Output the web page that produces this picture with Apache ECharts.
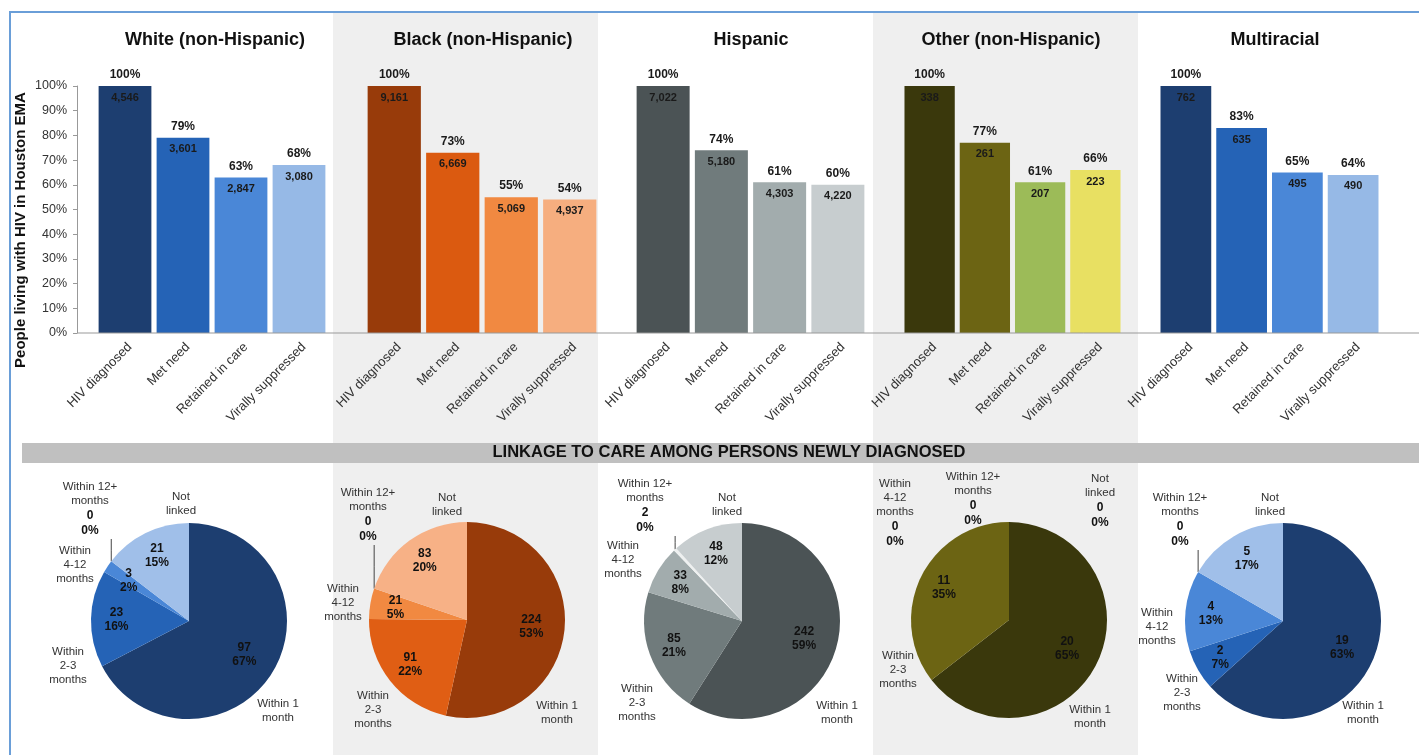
<!doctype html>
<html lang="en">
<head>
<meta charset="UTF-8">
<title>HIV care continuum and linkage to care by race/ethnicity</title>
<script src="https://cdn.jsdelivr.net/npm/echarts@6/dist/echarts.min.js"></script>
<style>
    html, body { margin: 0; padding: 0; background: #fff; }
    #chart { width: 1419px; height: 755px; }
</style>
</head>
<body>
<div id="chart"></div>
<script>
// groups (panel titles)
var groups = ['White (non-Hispanic)', 'Black (non-Hispanic)', 'Hispanic', 'Other (non-Hispanic)', 'Multiracial'];
// bar categories
var stages = ['HIV diagnosed', 'Met need', 'Retained in care', 'Virally suppressed'];
var yTicks = [0, 10, 20, 30, 40, 50, 60, 70, 80, 90, 100];

// percent of diagnosed
var pctWhite = [100, 79, 63, 68];
var pctBlack = [100, 73, 55, 54];
var pctHisp = [100, 74, 61, 60];
var pctOther = [100, 77, 61, 66];
var pctMulti = [100, 83, 65, 64];
// people counts
var cntWhite = [4546, 3601, 2847, 3080];
var cntBlack = [9161, 6669, 5069, 4937];
var cntHisp = [7022, 5180, 4303, 4220];
var cntOther = [338, 261, 207, 223];
var cntMulti = [762, 635, 495, 490];

// linkage to care (pies)
var linkNames = ['Within 1 month', 'Within 2-3 months', 'Within 4-12 months', 'Within 12+ months', 'Not linked'];
var linkLabels = ['Within 1\nmonth', 'Within\n2-3\nmonths', 'Within\n4-12\nmonths', 'Within 12+\nmonths', 'Not\nlinked'];
var linkWhite = [97, 23, 3, 0, 21];
var linkBlack = [224, 91, 21, 0, 83];
var linkHisp = [242, 85, 33, 2, 48];
var linkOther = [20, 11, 0, 0, 0];
var linkMulti = [19, 2, 4, 0, 5];

var pcts = [pctWhite, pctBlack, pctHisp, pctOther, pctMulti];
var cnts = [cntWhite, cntBlack, cntHisp, cntOther, cntMulti];
var links = [linkWhite, linkBlack, linkHisp, linkOther, linkMulti];

// ---- styles / layout ----
var barColors = [
    ['#1d3e70', '#2563b6', '#4a87d7', '#96b9e6'],
    ['#983b0a', '#db5a10', '#f18941', '#f6ae7f'],
    ['#4b5355', '#707b7c', '#a2acad', '#c7cdcf'],
    ['#3a380c', '#6c6413', '#9cbb58', '#e8e062'],
    ['#1d3e70', '#2563b6', '#4a87d7', '#96b9e6']
];
var pieColors = [
    ['#1d3e70', '#2563b6', '#4a87d7', '#dfe9f6', '#a0bfe9'],
    ['#983b0a', '#e05e14', '#f18941', '#fbe0cc', '#f7b186'],
    ['#4b5355', '#707b7c', '#a2acad', '#eef0f0', '#c7cdcf'],
    ['#3a380c', '#6c6413', '#9cbb58', '#f3f0b0', '#e8e062'],
    ['#1d3e70', '#2563b6', '#4a87d7', '#dfe9f6', '#a0bfe9']
];
var gridLeft = [96, 365, 634, 902, 1158];
var gridWidth = [232, 234, 233, 221, 223];
var gridTop = 86, gridH = 247;
var titleX = [210, 478, 746, 1006, 1270];
var pieCenters = [[189, 621], [467, 620], [742, 621], [1009, 620], [1283, 621]];
var pieR = 98;
// where the slice names sit, relative to each pie centre (hand placed, like the original)
var nameOffsets = [
    [[89, 90], [-121, 45], [-114, -56], [-99, -112], [-8, -117]],
    [[90, 93], [-94, 90], [-124, -17], [-99, -105], [-20, -115]],
    [[95, 92], [-105, 82], [-119, -61], [-97, -115], [-15, -116]],
    [[81, 97], [-111, 50], [-114, -107], [-36, -121], [91, -119]],
    [[80, 92], [-101, 72], [-126, 6], [-103, -101], [-13, -116]]
];
var leaderSlice = [3, 3, 3, -1, 3];
var FONT = 'Liberation Sans, Arial, sans-serif';

function sum(a) { return a.reduce(function (s, v) { return s + v; }, 0); }
// middle angle of a slice, clockwise from 12 o'clock
function midAngle(vals, i) {
    var before = sum(vals.slice(0, i));
    return (before + vals[i] / 2) / sum(vals) * Math.PI * 2;
}

var grids = [], xAxes = [], yAxes = [], series = [], titles = [];

groups.forEach(function (g, k) {
    grids.push({left: gridLeft[k], top: gridTop, width: gridWidth[k], height: gridH});
    titles.push({
        text: g, left: titleX[k], top: 26, textAlign: 'center',
        textStyle: {fontFamily: FONT, fontSize: 18, fontWeight: 'bold', color: '#111'}
    });
    xAxes.push({
        type: 'category', gridIndex: k, data: stages,
        axisLine: {show: false}, axisTick: {show: false},
        axisLabel: {rotate: 45, interval: 0, margin: 17, padding: [0, -7, 0, 0], fontFamily: FONT, fontSize: 13, color: '#333'}
    });
    yAxes.push({
        type: 'value', gridIndex: k, min: 0, max: 100, interval: 10,
        show: k === 0, offset: 19,
        splitLine: {show: false},
        axisLine: {show: true, lineStyle: {color: '#999'}},
        axisTick: {show: true, length: 4, lineStyle: {color: '#999'}},
        axisLabel: {
            margin: 10, fontFamily: FONT, fontSize: 12.5, color: '#333',
            formatter: function (v) { return yTicks.indexOf(v) >= 0 ? v + '%' : ''; }
        }
    });
    // coloured bars with the count inside
    series.push({
        type: 'bar', xAxisIndex: k, yAxisIndex: k, silent: true,
        barCategoryGap: '9%', barGap: '-100%',
        data: pcts[k].map(function (v, i) { return {value: v, itemStyle: {color: barColors[k][i]}}; }),
        label: {
            show: true, position: 'insideTop', distance: 6,
            fontFamily: FONT, fontSize: 11, fontWeight: 'bold', color: '#1a1a1a',
            formatter: function (p) { return echarts.format.addCommas(cnts[k][p.dataIndex]); }
        }
    });
    // transparent twin carrying the percent label on top
    series.push({
        type: 'bar', xAxisIndex: k, yAxisIndex: k, silent: true,
        barCategoryGap: '9%', barGap: '-100%',
        itemStyle: {color: 'rgba(0,0,0,0)'},
        data: pcts[k],
        label: {
            show: true, position: 'top', distance: 5,
            fontFamily: FONT, fontSize: 12, fontWeight: 'bold', color: '#1a1a1a',
            formatter: '{c}%'
        }
    });

    var total = sum(links[k]);
    var c = pieCenters[k];
    // pie: slices with counts / percents inside
    series.push({
        type: 'pie', center: c, radius: pieR, silent: true,
        startAngle: 90, clockwise: true, percentPrecision: 0, avoidLabelOverlap: false,
        data: links[k].map(function (v, i) {
            return {name: linkNames[i], value: v, itemStyle: {color: pieColors[k][i]}};
        }),
        label: {
            show: true, position: 'inside',
            fontFamily: FONT, fontSize: 12, fontWeight: 'bold', color: '#111', lineHeight: 14,
            formatter: function (p) { return p.value / total >= 0.01 ? p.value + '\n' + p.percent + '%' : ''; }
        },
        labelLine: {show: false},
        labelLayout: function (p) {
            var a = midAngle(links[k], p.dataIndex);
            var share = links[k][p.dataIndex] / total;
            var d = pieR * (share > 0.4 ? 0.66 : 0.74);
            return {x: c[0] + Math.sin(a) * d, y: c[1] - Math.cos(a) * d, align: 'center', verticalAlign: 'middle'};
        }
    });
    // same pie, transparent, carrying the slice names outside
    series.push({
        type: 'pie', center: c, radius: pieR, silent: true,
        startAngle: 90, clockwise: true, percentPrecision: 0, avoidLabelOverlap: false,
        itemStyle: {color: 'rgba(0,0,0,0)'},
        data: links[k].map(function (v, i) {
            return {name: linkNames[i], value: v, labelLine: {show: i === leaderSlice[k]}};
        }),
        label: {
            show: true, position: 'outside', alignTo: 'none', overflow: 'none', align: 'center',
            fontFamily: FONT, fontSize: 11.5, color: '#333', lineHeight: 14,
            formatter: function (p) {
                var t = linkLabels[p.dataIndex];
                return p.value / total >= 0.01 ? t : t + '\n{b|' + p.value + '}\n{b|' + p.percent + '%}';
            },
            rich: {b: {fontFamily: FONT, fontSize: 12, fontWeight: 'bold', color: '#111', lineHeight: 15, align: 'center'}}
        },
        labelLine: {length: 6, length2: 0, lineStyle: {color: '#444', width: 1}},
        labelLayout: function (p) {
            var i = p.dataIndex, off = nameOffsets[k][i];
            var x = c[0] + off[0], y = c[1] + off[1];
            var res = {x: x, y: y, align: 'center', verticalAlign: 'middle'};
            if (i === leaderSlice[k]) {
                var a = midAngle(links[k], i);
                var px = c[0] + Math.sin(a) * pieR, py = c[1] - Math.cos(a) * pieR;
                var top = y + p.labelRect.height / 2 + 1;
                res.labelLinePoints = [[px, py], [px, (py + top) / 2], [px, top]];
            }
            return res;
        }
    });
});

titles.push({
    text: 'LINKAGE TO CARE AMONG PERSONS NEWLY DIAGNOSED', left: 724, top: 439, textAlign: 'center',
    textStyle: {fontFamily: FONT, fontSize: 16.5, fontWeight: 'bold', color: '#111'}
});

var chart = echarts.init(document.getElementById('chart'), null, {renderer: 'canvas'});
chart.setOption({
    backgroundColor: '#fff',
    animation: false,
    title: titles,
    grid: grids,
    xAxis: xAxes,
    yAxis: yAxes,
    series: series,
    graphic: [
        // shaded panels
        {type: 'rect', z: -10, shape: {x: 333, y: 13, width: 265, height: 742}, style: {fill: '#efefef'}, silent: true},
        {type: 'rect', z: -10, shape: {x: 873, y: 13, width: 265, height: 742}, style: {fill: '#efefef'}, silent: true},
        // banner behind the linkage title
        {type: 'rect', z: -5, shape: {x: 22, y: 443, width: 1397, height: 20}, style: {fill: '#c0c0c0'}, silent: true},
        // frame
        {type: 'polyline', z: 10, shape: {points: [[10, 755], [10, 12], [1419, 12]]}, style: {stroke: '#6a9ed8', lineWidth: 2, fill: null}, silent: true},
        // shared baseline of the bar panels
        {type: 'line', z: 5, shape: {x1: 77, y1: 333, x2: 1419, y2: 333}, style: {stroke: '#999', lineWidth: 1}, silent: true},
        // y axis title
        {
            type: 'text', z: 5, x: 21, y: 230, rotation: Math.PI / 2, silent: true,
            style: {text: 'People living with HIV in Houston EMA', fontFamily: FONT, fontSize: 15, fontWeight: 'bold', fill: '#111', align: 'center', verticalAlign: 'middle'}
        }
    ]
});
</script>
</body>
</html>
